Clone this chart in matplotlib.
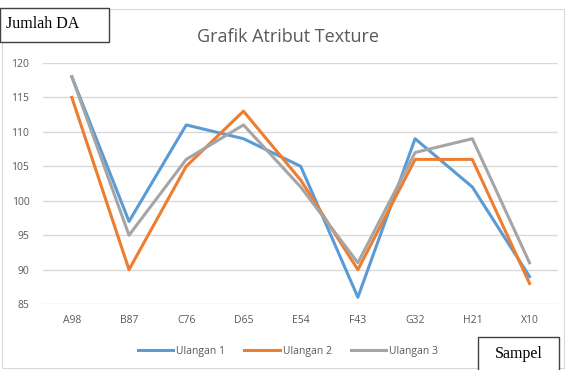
import matplotlib
matplotlib.use("Agg")
import numpy as np
from matplotlib import pyplot as plt
from matplotlib.patches import Rectangle

# data
sampel = ['A98', 'B87', 'C76', 'D65', 'E54', 'F43', 'G32', 'H21', 'X10']
ulangan1 = [118, 97, 111, 109, 105, 86, 109, 102, 89]
ulangan2 = [115, 90, 105, 113, 103, 90, 106, 106, 88]
ulangan3 = [118, 95, 106, 111, 102, 91, 107, 109, 91]
yticks = [85, 90, 95, 100, 105, 110, 115, 120]

plt.rcParams['font.family'] = ['Open Sans', 'DejaVu Sans']

fig = plt.figure(figsize=(5.76, 3.70), dpi=100)
ax = fig.add_axes([0.075, 0.178, 0.894, 0.652])

x = np.arange(len(sampel))
ax.plot(x, ulangan1, color='#5B9BD5', lw=2.2, label='Ulangan 1')
ax.plot(x, ulangan2, color='#ED7D31', lw=2.2, label='Ulangan 2')
ax.plot(x, ulangan3, color='#A5A5A5', lw=2.2, label='Ulangan 3')

ax.set_xlim(-0.5, len(sampel) - 0.5)
ax.set_ylim(85, 120)
ax.set_yticks(yticks)
ax.set_xticks(x)
ax.set_xticklabels(sampel)
ax.tick_params(axis='both', length=0, labelsize=7.5, colors='#595959')
ax.tick_params(axis='x', pad=8)
ax.tick_params(axis='y', pad=10)
ax.grid(axis='y', color='#D9D9D9', lw=1)
ax.set_axisbelow(True)
for s in ax.spines.values():
    s.set_visible(False)

fig.text(0.5, 0.9, 'Grafik Atribut Texture', ha='center', va='center',
         fontsize=13, color='#595959')

fig.legend(loc='center', bbox_to_anchor=(0.5, 0.05), ncol=3, frameon=False,
           fontsize=7.5, labelcolor='#595959', handlelength=3.4,
           columnspacing=1.8, handletextpad=0.3)

# outer chart border
fig.add_artist(Rectangle((0.004, 0.005), 0.975, 0.97, transform=fig.transFigure,
                         fill=False, ec='#D9D9D9', lw=0.8))

# text boxes
fig.add_artist(Rectangle((0.0, 0.887), 0.19, 0.091, transform=fig.transFigure,
                         fill=True, fc='white', ec='#404040', lw=1))
fig.text(0.01, 0.935, 'Jumlah DA', family='Liberation Serif', fontsize=11.5,
         ha='left', va='center', color='black')
fig.add_artist(Rectangle((0.83, -0.01), 0.14, 0.098, transform=fig.transFigure,
                         fill=True, fc='white', ec='#404040', lw=1))
fig.text(0.9, 0.042, 'Sampel', family='Liberation Serif', fontsize=11.5,
         ha='center', va='center', color='black')

fig.savefig('out.png', dpi=100)
